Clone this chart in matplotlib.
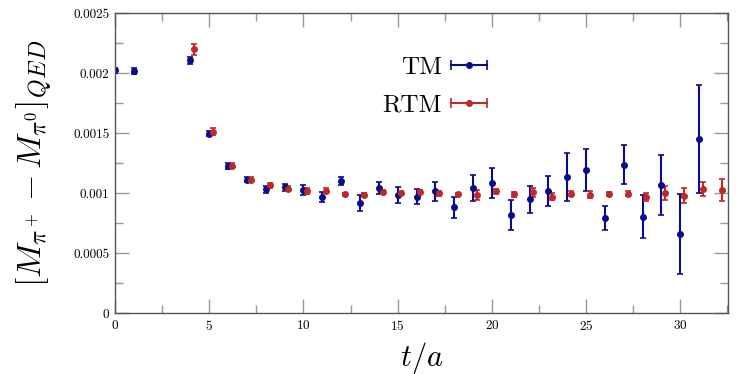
import numpy as np
import matplotlib
matplotlib.use("Agg")
import matplotlib.pyplot as plt
from matplotlib.lines import Line2D
from matplotlib.legend_handler import HandlerLine2D, HandlerTuple
from matplotlib.ticker import MultipleLocator, FuncFormatter

plt.rcParams['font.family'] = ['cmr10', 'DejaVu Serif']
plt.rcParams['mathtext.fontset'] = 'cm'
plt.rcParams['axes.formatter.use_mathtext'] = True

# TM data (integer t)
t_tm = [0, 1] + list(range(4, 32))
tm = [2.023, 2.020, 2.106, 1.494, 1.228, 1.111, 1.033, 1.047, 1.027, 0.967,
      1.100, 0.917, 1.039, 0.986, 0.969, 1.014, 0.880, 1.044, 1.080, 0.818,
      0.947, 1.019, 1.136, 1.192, 0.789, 1.236, 0.803, 1.064, 0.658, 1.450]
tm_err = [0.020, 0.025, 0.030, 0.020, 0.025, 0.020, 0.030, 0.030, 0.040, 0.045,
          0.035, 0.070, 0.050, 0.065, 0.062, 0.080, 0.085, 0.110, 0.125, 0.125,
          0.110, 0.125, 0.200, 0.178, 0.100, 0.164, 0.180, 0.250, 0.335, 0.447]

# RTM data (shifted by 0.2 for visibility)
t_rtm = list(range(4, 33))
rtm = [2.197, 1.511, 1.228, 1.110, 1.064, 1.036, 1.020, 1.020, 0.989, 0.986,
       1.008, 1.000, 1.008, 0.997, 0.989, 0.983, 1.014, 0.990, 1.006, 0.969,
       0.994, 0.986, 0.992, 0.994, 0.967, 1.000, 0.978, 1.033, 1.025]
rtm_err = [0.045, 0.030, 0.020, 0.020, 0.020, 0.020, 0.025, 0.020, 0.012, 0.012,
           0.020, 0.020, 0.015, 0.020, 0.012, 0.040, 0.020, 0.020, 0.040, 0.030,
           0.020, 0.030, 0.020, 0.020, 0.036, 0.060, 0.060, 0.060, 0.090]

blue = "#0a0a8c"
red = "#c0282a"

fig = plt.figure(figsize=(7.47, 3.74), dpi=100)
ax = fig.add_axes([0.154, 0.163, 0.821, 0.802])

ax.errorbar(t_tm, np.array(tm) * 1e-3, yerr=np.array(tm_err) * 1e-3,
            fmt='o', color=blue, ms=4, elinewidth=1.5, capsize=2.5, capthick=1.2)
ax.errorbar(np.array(t_rtm) + 0.2, np.array(rtm) * 1e-3, yerr=np.array(rtm_err) * 1e-3,
            fmt='o', color=red, ms=4, elinewidth=1.5, capsize=2.5, capthick=1.2)

ax.set_xlim(0, 32.55)
ax.set_ylim(0, 0.0025)
ax.xaxis.set_major_locator(MultipleLocator(5))
ax.xaxis.set_minor_locator(MultipleLocator(2.5))
ax.yaxis.set_major_locator(MultipleLocator(0.0005))
ax.yaxis.set_minor_locator(MultipleLocator(0.00025))
ax.yaxis.set_major_formatter(FuncFormatter(lambda v, p: "0" if v == 0 else ("%.4f" % v).rstrip('0')))

ax.tick_params(which='both', direction='in', top=True, right=True,
               color='#999999', width=1, labelsize=9.5, pad=4)
ax.tick_params(which='major', length=10)
ax.tick_params(which='minor', length=5.5)
for s in ax.spines.values():
    s.set_color('#555555')
    s.set_linewidth(1)

ax.set_xlabel(r'$t/a$', fontsize=22, labelpad=5)
ax.set_ylabel(r'$[M_{\pi^+} - M_{\pi^0}]_{QED}$', fontsize=24.5, labelpad=14)

# legend: horizontal bar with caps and a dot
handles = []
hmap = {}
for c in (blue, red):
    caps = Line2D([], [], color=c, lw=1.5, marker='|', ms=7, mew=1.2)
    dot = Line2D([], [], color=c, lw=0, marker='o', ms=4)
    hmap[caps] = HandlerLine2D(numpoints=2, marker_pad=0)
    hmap[dot] = HandlerLine2D(numpoints=1)
    handles.append((caps, dot))
hmap[tuple] = HandlerTuple(ndivide=1)
ax.legend(handles, ['TM', 'RTM'], handler_map=hmap, loc='upper right',
          bbox_to_anchor=(0.643, 0.93), frameon=False, markerfirst=False,
          fontsize=18, handlelength=1.45, handletextpad=0.35, labelspacing=0.6)

fig.savefig("out.png", dpi=100)
